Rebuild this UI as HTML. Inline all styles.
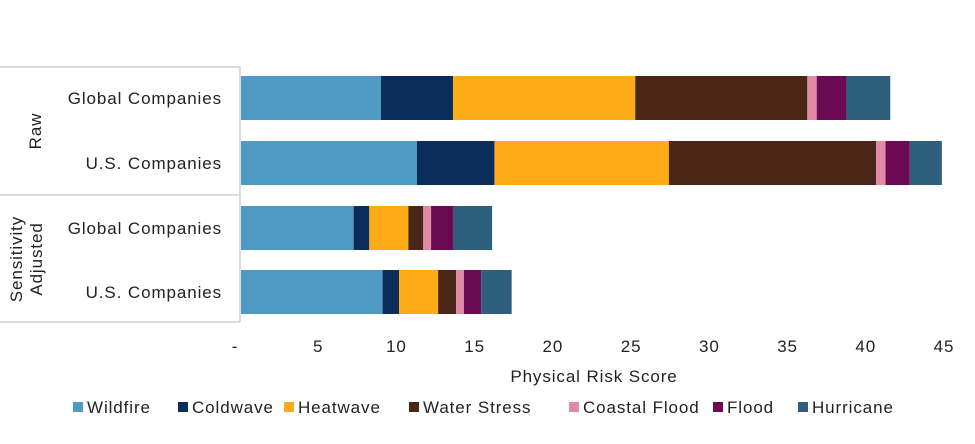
<!DOCTYPE html>
<html><head><meta charset="utf-8"><style>
body{margin:0;background:#fff;width:975px;height:439px;overflow:hidden;font-family:"Liberation Sans",sans-serif;}
svg text{font-family:"Liberation Sans",sans-serif;fill:#222;letter-spacing:0.9px;}
</style></head><body>
<svg id="chart" width="975" height="439"></svg>
<script>
const categories=["Global Companies","U.S. Companies","Global Companies","U.S. Companies"];
const groups=["Raw","Sensitivity Adjusted"];
const seriesNames=["Wildfire","Coldwave","Heatwave","Water Stress","Coastal Flood","Flood","Hurricane"];
const colors=["#4f9ac2","#0b2d5c","#fdac18","#4a2616","#e08aa8","#6b0a52","#2d5f7c"];
const wildfire=[8.95,11.25,7.2,9.05];
const coldwave=[4.6,4.95,1.0,1.05];
const heatwave=[11.65,11.15,2.5,2.5];
const waterStress=[11.0,13.25,0.95,1.15];
const coastalFlood=[0.6,0.6,0.5,0.5];
const flood=[1.9,1.55,1.4,1.1];
const hurricane=[2.8,2.05,2.5,1.95];
const ticks=[0,5,10,15,20,25,30,35,40,45];
const tickLabels=["-","5","10","15","20","25","30","35","40","45"];
const series=[wildfire,coldwave,heatwave,waterStress,coastalFlood,flood,hurricane];
const svg=document.getElementById('chart');const NS='http://www.w3.org/2000/svg';
const x0=240,x1=944,xmax=45;
const X=v=>x0+v/xmax*(x1-x0);
const rowTop=[76,141,206,270],barH=44;
function el(t,a,p){const e=document.createElementNS(NS,t);for(const k in a)e.setAttribute(k,a[k]);(p||svg).appendChild(e);return e;}
let ln;
ln=el('line',{x1:0,y1:67,x2:240,y2:67,stroke:'#d0d0d0','stroke-width':1.5});


ln=el('line',{x1:0,y1:195,x2:240,y2:195,stroke:'#d0d0d0','stroke-width':1.5});


ln=el('line',{x1:0,y1:322,x2:240,y2:322,stroke:'#d0d0d0','stroke-width':1.5});


ln=el('line',{x1:240,y1:67,x2:240,y2:322,stroke:'#d0d0d0','stroke-width':1.5});


let g=el('text',{x:0,y:0,'font-size':17,'text-anchor':'middle',transform:'translate(41,131) rotate(-90)'});g.textContent=groups[0];


g=el('text',{x:0,y:0,'font-size':17,'text-anchor':'middle',transform:'translate(22,259) rotate(-90)'});
el('tspan',{x:0,dy:0},g).textContent='Sensitivity';el('tspan',{x:0,dy:20},g).textContent='Adjusted';


categories.forEach((c,i)=>{
 const t=el('text',{x:222,y:rowTop[i]+barH/2+6,'font-size':17,'text-anchor':'end'});t.textContent=c;
 
 
 let acc=0;
 series.forEach((s,j)=>{
  const r=el('rect',{x:X(acc)+1,y:rowTop[i],width:Math.max(0,X(acc+s[i])-X(acc)),height:barH,fill:colors[j]});
  
  
  acc+=s[i];
 });
});
ticks.forEach((v,i)=>{
 const t=el('text',{x:X(v)+(i==0?-5:0),y:352,'font-size':17,'text-anchor':'middle'});t.textContent=tickLabels[i];
 
 
});
const xt=el('text',{x:594,y:382,'font-size':17,'text-anchor':'middle'});xt.textContent='Physical Risk Score';


const lx=[73,178,284,409,569,713,798];
seriesNames.forEach((n,j)=>{
 const r=el('rect',{x:lx[j],y:402,width:10,height:10,fill:colors[j]});
 
 
 const t=el('text',{x:lx[j]+14,y:413,'font-size':17});t.textContent=n;
 
 
});
</script>
</body></html>
